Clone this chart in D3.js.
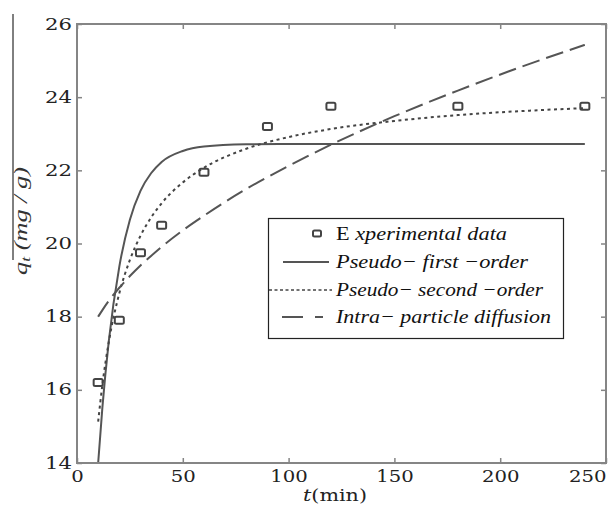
<!DOCTYPE html>
<html>
<head>
<meta charset="utf-8">
<script src="https://cdn.jsdelivr.net/npm/d3@7"></script>
<style>
  html, body { margin: 0; padding: 0; background: #fff; }
  svg { display: block; }
</style>
</head>
<body>
<script>
// Adsorption kinetics: measured uptake and three fitted kinetic models
const tData = [10, 20, 30, 40, 60, 90, 120, 180, 240];
const qData = [16.2, 17.9, 19.75, 20.5, 21.95, 23.2, 23.75, 23.75, 23.75];

const tFit = [10, 12, 15, 20, 25, 30, 35, 40, 50, 60, 80, 100, 120, 150, 180, 210, 240];
const qFirstOrder  = [14.0, 15.52, 17.32, 19.37, 20.65, 21.44, 21.92, 22.23, 22.53, 22.65, 22.71, 22.72, 22.72, 22.72, 22.72, 22.72, 22.72];
const qSecondOrder = [15.13, 16.14, 17.30, 18.64, 19.55, 20.21, 20.71, 21.10, 21.67, 22.07, 22.59, 22.91, 23.13, 23.35, 23.51, 23.62, 23.70];
const qIntraPart   = [18.00, 18.18, 18.43, 18.79, 19.11, 19.40, 19.66, 19.91, 20.36, 20.76, 21.49, 22.12, 22.70, 23.48, 24.18, 24.83, 25.43];

const xTicks = [0, 50, 100, 150, 200, 250];
const yTicks = [14, 16, 18, 20, 22, 24, 26];

const legendLabels = ["Experimental data", "Pseudo\u2212 first \u2212order", "Pseudo\u2212 second \u2212order", "Intra\u2212 particle diffusion"];

const W = 609, H = 506;
const plot = { left: 77, right: 606, top: 24, bottom: 463 };

const svg = d3.select("body").append("svg").attr("width", W).attr("height", H);

const x = d3.scaleLinear().domain([0, 250]).range([plot.left, plot.right]);
const y = d3.scaleLinear().domain([14, 26]).range([plot.bottom, plot.top]);

const frameColor = "#858585";
const serif = "DejaVu Serif, serif";
const times = "Liberation Serif, Times New Roman, Times, serif";

// Fitted curves
svg.append("clipPath").attr("id", "plotClip")
  .append("rect").attr("x", plot.left).attr("y", plot.top)
  .attr("width", plot.right - plot.left).attr("height", plot.bottom - plot.top);

const line = (vals) => d3.line()
  .x((d, i) => x(tFit[i]))
  .y(d => y(d))
  .curve(d3.curveMonotoneX)(vals);

const curves = svg.append("g").attr("clip-path", "url(#plotClip)");
curves.append("path").attr("d", line(qFirstOrder))
  .attr("fill", "none").attr("stroke", "#555").attr("stroke-width", 2);
curves.append("path").attr("d", line(qSecondOrder))
  .attr("fill", "none").attr("stroke", "#444").attr("stroke-width", 2)
  .attr("stroke-dasharray", "3,3.5");
curves.append("path").attr("d", line(qIntraPart))
  .attr("fill", "none").attr("stroke", "#555").attr("stroke-width", 2)
  .attr("stroke-dasharray", "18,7");

// Measured points as open squares
svg.append("g").selectAll("rect").data(tData).join("rect")
  .attr("x", (d) => x(d) - 4.5)
  .attr("y", (d, i) => y(qData[i]) - 3.5)
  .attr("width", 9).attr("height", 7).attr("rx", 1.5)
  .attr("fill", "none").attr("stroke", "#444").attr("stroke-width", 2);

// Axes with inward ticks on all four sides
const tickLen = 5;
const axisStyle = (g) => {
  g.select(".domain").remove();
  g.selectAll(".tick line").attr("stroke", frameColor).attr("stroke-width", 1.5);
};

const bottomAxis = svg.append("g").attr("transform", `translate(0,${plot.bottom})`)
  .call(d3.axisBottom(x).tickValues(xTicks).tickSize(-tickLen).tickPadding(10))
  .call(axisStyle);
bottomAxis.selectAll(".tick text")
  .attr("font-family", serif).attr("font-size", 16).attr("fill", "#222")
  .attr("dy", "0.71em").attr("y", 8)
  .attr("textLength", d => String(d).length * 12.5).attr("lengthAdjust", "spacingAndGlyphs")
  .attr("text-anchor", d => d === 250 ? "end" : "middle");

svg.append("g").attr("transform", `translate(0,${plot.top})`)
  .call(d3.axisTop(x).tickValues(xTicks).tickSize(-tickLen).tickFormat(""))
  .call(axisStyle);

const leftAxis = svg.append("g").attr("transform", `translate(${plot.left},0)`)
  .call(d3.axisLeft(y).tickValues(yTicks).tickSize(-tickLen).tickPadding(6))
  .call(axisStyle);
leftAxis.selectAll(".tick text")
  .attr("font-family", serif).attr("font-size", 16).attr("fill", "#222")
  .attr("x", -5)
  .attr("textLength", 27).attr("lengthAdjust", "spacingAndGlyphs");

svg.append("g").attr("transform", `translate(${plot.right},0)`)
  .call(d3.axisRight(y).tickValues(yTicks).tickSize(-tickLen).tickFormat(""))
  .call(axisStyle);

// Plot frame
svg.append("rect")
  .attr("x", plot.left).attr("y", plot.top)
  .attr("width", plot.right - plot.left).attr("height", plot.bottom - plot.top)
  .attr("fill", "none").attr("stroke", frameColor).attr("stroke-width", 2);

// Axis titles
const xTitle = svg.append("text")
  .attr("x", 335).attr("y", 501)
  .attr("text-anchor", "middle")
  .attr("font-family", serif).attr("font-size", 17).attr("fill", "#222")
  .attr("textLength", 64).attr("lengthAdjust", "spacingAndGlyphs");
xTitle.append("tspan").attr("font-style", "italic").text("t");
xTitle.append("tspan").text("(min)");

svg.append("line")
  .attr("x1", 13).attr("x2", 13).attr("y1", 14).attr("y2", 260)
  .attr("stroke", "#000").attr("stroke-width", 1);

const yTitle = svg.append("text")
  .attr("transform", "translate(27,221) rotate(-90)")
  .attr("text-anchor", "middle")
  .attr("font-family", times).attr("font-style", "italic")
  .attr("font-size", 18).attr("fill", "#333")
  .attr("textLength", 108).attr("lengthAdjust", "spacingAndGlyphs");
yTitle.append("tspan").text("q");
yTitle.append("tspan").attr("font-size", 12).attr("dy", 3).text("t");
yTitle.append("tspan").attr("dy", -3).text(" (mg / g)");

// Legend
const legend = svg.append("g");
legend.append("rect")
  .attr("x", 268.5).attr("y", 218.5).attr("width", 295).attr("height", 120)
  .attr("fill", "#fff").attr("stroke", "#222").attr("stroke-width", 1.2);

const rowY = [234, 262, 290, 317];
const textX = 336;
const textW = [171, 192, 207, 215];

legend.append("rect")
  .attr("x", 313).attr("y", rowY[0] - 3.5).attr("width", 8).attr("height", 6).attr("rx", 1.5)
  .attr("fill", "none").attr("stroke", "#444").attr("stroke-width", 2);
legend.append("line").attr("x1", 283).attr("x2", 329).attr("y1", rowY[1]).attr("y2", rowY[1])
  .attr("stroke", "#555").attr("stroke-width", 2);
legend.append("line").attr("x1", 269).attr("x2", 332).attr("y1", rowY[2]).attr("y2", rowY[2])
  .attr("stroke", "#444").attr("stroke-width", 1.5).attr("stroke-dasharray", "3,2.5");
legend.append("line").attr("x1", 282).attr("x2", 323).attr("y1", rowY[3]).attr("y2", rowY[3])
  .attr("stroke", "#555").attr("stroke-width", 2).attr("stroke-dasharray", "21,12");

legendLabels.forEach((label, i) => {
  const t = legend.append("text")
    .attr("x", textX).attr("y", rowY[i] + 6)
    .attr("font-family", times).attr("font-size", 19).attr("fill", "#111")
    .attr("textLength", textW[i]).attr("lengthAdjust", "spacingAndGlyphs");
  if (i === 0) {
    t.append("tspan").text(label.slice(0, 1) + " ");
    t.append("tspan").attr("font-style", "italic").text(label.slice(1));
  } else {
    t.attr("font-style", "italic").text(label);
  }
});
</script>
</body>
</html>
